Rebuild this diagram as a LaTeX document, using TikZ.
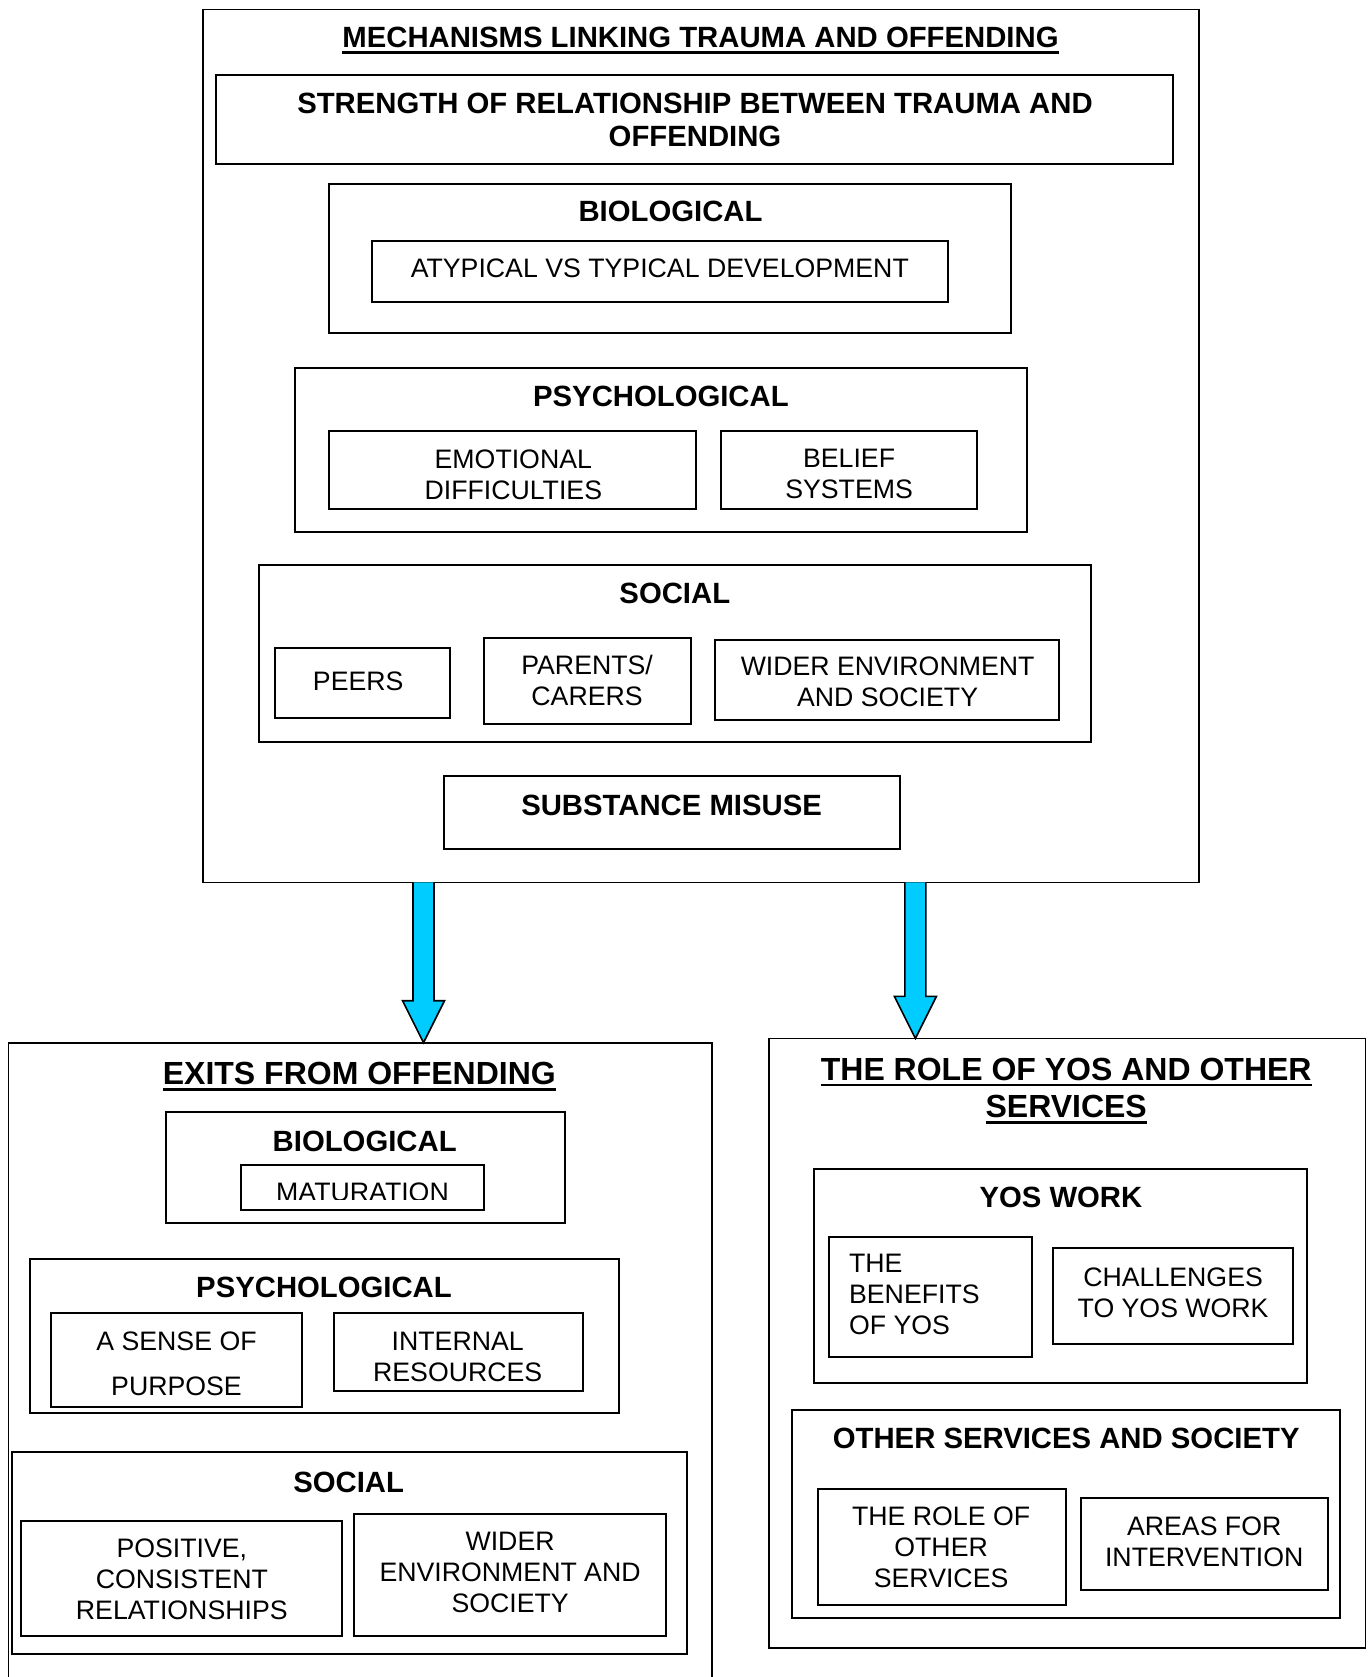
\documentclass[tikz,border=0pt]{standalone}
\usepackage{fontspec}
\setmainfont{Liberation Sans}
\usetikzlibrary{calc}
\definecolor{arrowblue}{HTML}{00CCFF}
% underline drawn as a rule under the text
\newcommand{\ulined}[1]{\setbox0=\hbox{#1}\leavevmode\rlap{\rule[-6pt]{\wd0}{2.8pt}}\box0}
% \mkbox[style]{name}{x1}{y1}{x2}{y2}: rectangle node from its top-left to bottom-right corner
\newcommand{\mkbox}[6][]{\node[box,#1,anchor=north west,minimum width={#5pt-#3pt},minimum height={#6pt-#4pt}] (#2) at (#3,#4) {};}
\tikzset{
  box/.style={draw=black, line width=2pt, inner sep=0pt, outer sep=0pt},
  outerbox/.style={line width=1.6pt},
  txt/.style={inner sep=0pt, outer sep=0pt, align=center, text depth=0pt, yshift=-1pt, font=\fontsize{26.7pt}{31pt}\selectfont},
  head/.style={txt, font=\bfseries\fontsize{29.3pt}{33pt}\selectfont},
  bighead/.style={txt, font=\bfseries\fontsize{32pt}{37.5pt}\selectfont},
  flow/.style={draw=black, line width=1.6pt, fill=arrowblue, line join=miter},
}
\begin{document}
\begin{tikzpicture}[x=1pt,y=-1pt]
\fill[white] (0,0) rectangle (1371,1677);
\clip (0,0) rectangle (1371,1677);

% ---------- mechanisms ----------
\mkbox[outerbox]{mech}{203.2}{9.6}{1198.8}{882.3}
\node[head] (mechT) at (700.5,36.4) {\ulined{MECHANISMS LINKING TRAUMA AND OFFENDING}};

\mkbox{strength}{216}{74.9}{1173.1}{163.6}
\node[head] (strengthT) at (695,119.2) {STRENGTH OF RELATIONSHIP BETWEEN TRAUMA AND\\OFFENDING};

\mkbox{bioA}{329.4}{183.9}{1010.6}{332.6}
\node[head] (bioAT) at (670.5,210.7) {BIOLOGICAL};
\mkbox{atyp}{372.2}{240.6}{947.5}{301.6}
\node[txt] (atypT) at (659.8,267.4) {ATYPICAL VS TYPICAL DEVELOPMENT};

\mkbox{psyA}{295.2}{367.9}{1026.6}{531.5}
\node[head] (psyAT) at (660.9,395.7) {PSYCHOLOGICAL};
\mkbox{emo}{329.4}{431}{696.2}{509}
\node[txt] (emoT) at (513.3,473.2) {EMOTIONAL\\DIFFICULTIES};
\mkbox{belief}{720.8}{431}{977.4}{509}
\node[txt] (beliefT) at (849.1,473.2) {BELIEF\\SYSTEMS};

\mkbox{socA}{258.8}{564.6}{1090.8}{742.2}
\node[head] (socAT) at (674.8,592.4) {SOCIAL};
\mkbox{peers}{274.8}{648.1}{450.2}{717.6}
\node[txt] (peersT) at (358.2,680.1) {PEERS};
\mkbox{parents}{484.4}{638.4}{690.8}{724}
\node[txt] (parentsT) at (587.1,679.6) {PARENTS/\\CARERS};
\mkbox{widerA}{715.4}{639.5}{1058.7}{719.7}
\node[txt] (widerAT) at (887.6,680.7) {WIDER ENVIRONMENT\\AND SOCIETY};

\mkbox{subst}{443.8}{776.4}{900.4}{849.1}
\node[head] (substT) at (671.6,804.2) {SUBSTANCE MISUSE};

% ---------- exits from offending ----------
\mkbox[outerbox]{exits}{8.6}{1042.7}{712.2}{1700}
\node[bighead] (exitsT) at (359.3,1072.6) {\ulined{EXITS FROM OFFENDING}};

\mkbox{bioB}{165.8}{1112.2}{564.6}{1223.4}
\node[head] (bioBT) at (364.7,1140) {BIOLOGICAL};
\mkbox{mat}{240.6}{1164.6}{484.4}{1209.5}
\begin{scope}
  \clip (mat.north west) rectangle ($(mat.south east)+(0,-10.5)$);
  \node[txt] (matT) at (362.5,1191.5) {MATURATION};
\end{scope}

\mkbox{psyB}{29.9}{1258.7}{619.2}{1412.7}
\node[head] (psyBT) at (324,1286.5) {PSYCHOLOGICAL};
\mkbox{sense}{51.3}{1313.2}{301.6}{1407.3}
\node[txt] (senseT) at (176.5,1362.5) {A SENSE OF\\[14pt]PURPOSE};
\mkbox{internal}{333.7}{1313.2}{582.8}{1391.3}
\node[txt] (internalT) at (457.7,1355.5) {INTERNAL\\RESOURCES};

\mkbox{socB}{11.8}{1452.3}{686.6}{1654.4}
\node[head] (socBT) at (348.6,1481.1) {SOCIAL};
\mkbox{positive}{21.4}{1520.7}{342.2}{1636.2}
\node[txt] (positiveT) at (181.8,1577.9) {POSITIVE,\\CONSISTENT\\RELATIONSHIPS};
\mkbox{widerB}{354}{1514.3}{666.2}{1636.2}
\node[txt] (widerBT) at (510.1,1571.5) {WIDER\\ENVIRONMENT AND\\SOCIETY};

% ---------- role of YOS and other services ----------
\mkbox[outerbox]{role}{768.9}{1038.4}{1365.6}{1648}
\node[bighead] (roleT) at (1066.2,1087) {\ulined{THE ROLE OF YOS AND OTHER}\\\ulined{SERVICES}};

\mkbox{yos}{813.8}{1168.9}{1306.8}{1382.7}
\node[head] (yosT) at (1060.9,1196.7) {YOS WORK};
\mkbox{benefits}{828.8}{1237.3}{1032}{1357.1}
\node[txt, align=left, anchor=west] (benefitsT) at (849.1,1293.5) {THE\\BENEFITS\\OF YOS};
\mkbox{challenges}{1053.4}{1248}{1292.9}{1344.2}
\node[txt] (challengesT) at (1173.1,1291.3) {CHALLENGES\\TO YOS WORK};

\mkbox{other}{792.4}{1409.5}{1340}{1618}
\node[head] (otherT) at (1066.2,1437.3) {OTHER SERVICES AND SOCIETY};
\mkbox{roleother}{818.1}{1488.6}{1066.2}{1605.2}
\node[txt] (roleotherT) at (941.1,1545.8) {THE ROLE OF\\OTHER\\SERVICES};
\mkbox{areas}{1081.2}{1498.2}{1328.2}{1590.2}
\node[txt] (areasT) at (1204.2,1540.5) {AREAS FOR\\INTERVENTION};

% ---------- block arrows ----------
\coordinate (aLx) at (423.5,0);
\coordinate (aLtop) at (aLx |- mech.south);
\coordinate (aLtip) at (aLx |- exits.north);
\draw[flow] ($(aLtop)+(-10.5,0)$) -- ($(aLtip)+(-10.5,-42)$) -- ($(aLtip)+(-21,-42)$)
  -- (aLtip) -- ($(aLtip)+(21,-42)$) -- ($(aLtip)+(10.5,-42)$) -- ($(aLtop)+(10.5,0)$);

\coordinate (aRx) at (915.4,0);
\coordinate (aRtop) at (aRx |- mech.south);
\coordinate (aRtip) at (aRx |- role.north);
\draw[flow] ($(aRtop)+(-10.5,0)$) -- ($(aRtip)+(-10.5,-42)$) -- ($(aRtip)+(-21,-42)$)
  -- (aRtip) -- ($(aRtip)+(21,-42)$) -- ($(aRtip)+(10.5,-42)$) -- ($(aRtop)+(10.5,0)$);
\end{tikzpicture}
\end{document}
